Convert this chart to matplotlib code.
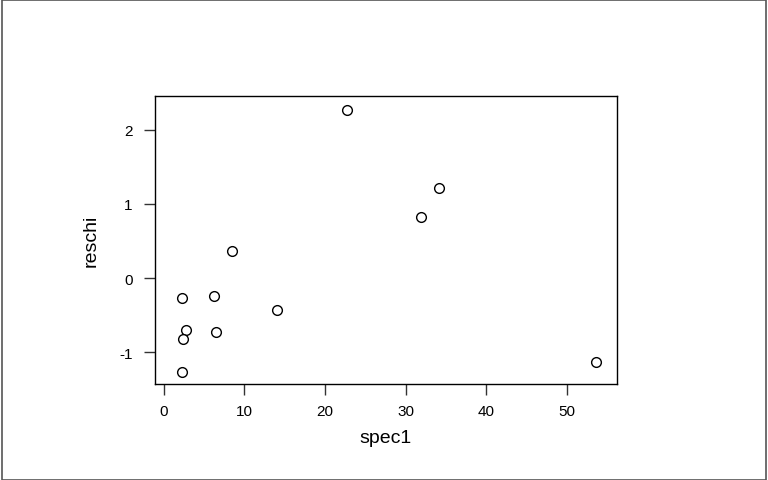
import matplotlib
matplotlib.use("Agg")
import matplotlib.pyplot as plt
from matplotlib.patches import Rectangle

plt.rcParams["font.family"] = ["Liberation Sans", "DejaVu Sans"]

# values
spec1 = [22.7, 8.5, 2.2, 6.2, 14.1, 2.8, 6.5, 2.35, 2.2, 34.2, 31.9, 53.6]
reschi = [2.27, 0.37, -0.27, -0.24, -0.43, -0.70, -0.72, -0.82, -1.27, 1.21, 0.82, -1.13]

xticks = [0, 10, 20, 30, 40, 50]
yticks = [-1, 0, 1, 2]

fig = plt.figure(figsize=(7.68, 4.81), dpi=100)
ax = fig.add_axes([0.2018, 0.199, 0.601, 0.599])

ax.plot(spec1, reschi, linestyle="none", marker="o", markersize=7,
        markerfacecolor="white", markeredgecolor="black", markeredgewidth=1.0)

ax.set_xlim(-1.1, 56.2)
ax.set_ylim(-1.43, 2.45)
ax.set_xticks(xticks)
ax.set_yticks(yticks)
ax.set_yticklabels(["-1", "0", "1", "2"])
ax.tick_params(direction="out", length=8, width=1, labelsize=11, pad=6, color="#333333")
ax.tick_params(axis="y", pad=8)
for s in ax.spines.values():
    s.set_linewidth(1.0)

ax.set_xlabel("spec1", fontsize=14, labelpad=8)
ax.set_ylabel("reschi", fontsize=14, labelpad=14)

# outer frame around the whole figure
fig.patches.append(Rectangle((0.003, 0.001), 0.995, 0.996, transform=fig.transFigure,
                             fill=False, edgecolor="#555555", linewidth=1.2))

fig.savefig("out.png", dpi=100)
